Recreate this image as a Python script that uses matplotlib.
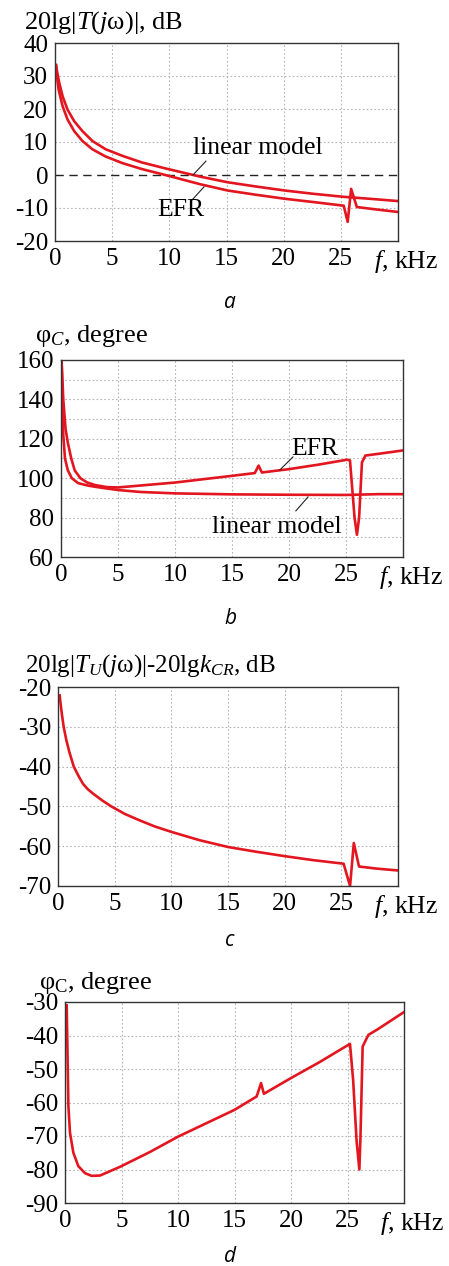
import matplotlib
matplotlib.use("Agg")
import matplotlib.pyplot as plt
from matplotlib.transforms import offset_copy

plt.rcParams['font.family'] = ['Liberation Serif', 'DejaVu Serif']
plt.rcParams['mathtext.fontset'] = 'custom'
plt.rcParams['mathtext.rm'] = 'Liberation Serif'
plt.rcParams['mathtext.it'] = 'Liberation Serif:italic'

# ---------------- data ----------------
# panel a: 20lg|T(jw)|, dB
fa_lin = [0.09, 0.2, 0.38, 0.67, 1.1, 1.68, 2.4, 3.27, 4.43, 5.9, 7.6, 9.65, 12.7, 15.1, 17.6, 20.1,
          22.6, 25.2, 27.5, 30.0]
a_lin = [33.3, 31.0, 27.8, 23.8, 19.8, 16.3, 13.3, 10.3, 7.8, 5.8, 3.8, 2.0, -0.5, -2.2, -3.5, -4.7,
         -5.7, -6.6, -7.2, -7.9]
fa_efr = [0.09, 0.2, 0.32, 0.67, 1.1, 1.68, 2.4, 3.27, 4.43, 5.9, 7.6, 9.65, 12.7, 15.1, 17.6, 20.1,
          22.6, 25.25, 25.6, 25.9, 26.4, 28.0, 30.0]
a_efr = [33.3, 29.0, 25.8, 20.8, 16.8, 13.3, 10.3, 7.8, 5.6, 3.6, 1.8, 0.0, -2.8, -4.7, -6.0, -7.2,
         -8.2, -9.3, -14.2, -4.2, -9.7, -10.4, -11.2]

# panel b: phi_C, degree
fb_lin = [0.05, 0.12, 0.2, 0.35, 0.6, 0.95, 1.5, 2.4, 3.5, 5.0, 7.0, 10.0, 15.0, 20.0, 25.0, 27.8, 30.0]
b_lin = [160, 140, 122, 110, 104, 100, 97.5, 96.2, 95.2, 94.0, 93.0, 92.3, 91.8, 91.6, 91.5, 91.9, 91.9]
fb_efr = [0.05, 0.2, 0.4, 0.6, 0.9, 1.2, 1.7, 2.3, 3.0, 4.0, 5.0, 7.0, 10.0, 12.5, 15.0, 17.0, 17.33,
          17.62, 20.0, 22.6, 25.1, 25.35, 25.75, 25.96, 26.15, 26.4, 26.7, 28.0, 30.0]
b_efr = [160, 140, 125, 118, 110, 104, 100, 97.8, 96.5, 95.5, 95.3, 96.3, 97.8, 99.5, 101.2, 102.6, 106.4,
         102.9, 104.6, 106.9, 109.4, 109.0, 80.0, 71.3, 80.0, 108.0, 111.5, 112.5, 114.1]

# panel c: 20lg|TU(jw)|-20lg kCR, dB
fc = [0.15, 0.2, 0.3, 0.4, 0.5, 0.74, 1.0, 1.39, 1.8, 2.2, 2.6, 3.1, 3.9, 4.7, 5.9, 7.2, 8.5, 10.0,
      12.5, 15.0, 17.5, 20.0, 22.5, 25.2, 25.77, 26.1, 26.56, 28.0, 30.0]
c_val = [-22.1, -23.5, -25.9, -28.0, -30.0, -33.4, -36.3, -40.0, -42.3, -44.3, -45.6, -46.8, -48.5,
         -50.0, -51.9, -53.5, -55.0, -56.4, -58.5, -60.2, -61.4, -62.5, -63.5, -64.4, -70.0, -59.2,
         -65.1, -65.6, -66.1]

# panel d: phi_C, degree
fd = [0.15, 0.22, 0.3, 0.44, 0.74, 1.18, 1.77, 2.36, 3.1, 4.87, 7.5, 10.0, 12.5, 15.0, 16.96, 17.35, 17.6,
      20.0, 22.5, 25.22, 25.5, 25.8, 26.05, 26.15, 26.34, 26.85, 27.6, 30.0]
d_val = [-31.0, -45.0, -61.0, -69.0, -75.0, -79.0, -81.1, -81.9, -81.8, -79.2, -74.8, -70.2, -66.2, -62.2,
         -58.2, -54.2, -57.4, -52.7, -48.0, -42.5, -53.3, -71.3, -80.0, -70.0, -43.3, -39.8, -38.3, -33.0]

x_ticks = [0, 5, 10, 15, 20, 25]
x_grid = [5, 10, 15, 20, 25]

RED = '#e3161f'
W, H = 449, 1266
fig = plt.figure(figsize=(W / 100, H / 100), dpi=100)


def rect(l, r, t, b):
    return [l / W, 1 - b / H, (r - l) / W, (b - t) / H]


def style(ax, ylim, yticks, ygrid):
    ax.set_xlim(0, 30)
    ax.set_ylim(*ylim)
    ax.set_xticks(x_ticks)
    ax.set_yticks(yticks)
    ax.set_yticklabels([f"{v:g}" for v in yticks])
    ax.tick_params(which='both', length=0, labelsize=18, pad=5)
    gkw = dict(color='#b5b5b5', linestyle=(0, (1.5, 2.0)), linewidth=0.8, zorder=0)
    for x in x_grid:
        ax.axvline(x, **gkw)
    for y in ygrid:
        ax.axhline(y, **gkw)
    for s in ax.spines.values():
        s.set_color('#333333')
        s.set_linewidth(1.0)
    t = offset_copy(ax.transAxes, fig=fig, y=-5, units='points')
    ax.text(1.025, 0.0, r"$f$, kHz", transform=t, ha='center', va='top', fontsize=18.5)


# ---- a ----
axa = fig.add_axes(rect(55, 398, 43, 241))
style(axa, (-20, 40), [-20, -10, 0, 10, 20, 30, 40], [-10, 10, 20, 30])
axa.axhline(0, color='#222222', lw=1.0, ls=(0, (6, 4)))
axa.plot(fa_lin, a_lin, color=RED, lw=1.9)
axa.plot(fa_efr, a_efr, color=RED, lw=1.9)
axa.text(17.76, 8.2, 'linear model', ha='center', va='center', fontsize=18.5)
axa.plot([13.2, 12.07], [4.2, 0.0], color='#222222', lw=0.8)
axa.text(11.0, -10.6, 'EFR', ha='center', va='center', fontsize=18.5)
axa.plot([11.98, 13.03], [-7.6, -3.6], color='#222222', lw=0.8)

# ---- b ----
axb = fig.add_axes(rect(61, 403, 360, 557))
style(axb, (60, 160), [60, 80, 100, 120, 140, 160], [70, 80, 90, 100, 110, 120, 130, 140, 150])
axb.plot(fb_lin, b_lin, color=RED, lw=1.9)
axb.plot(fb_efr, b_efr, color=RED, lw=1.9)
axb.text(22.28, 114.8, 'EFR', ha='center', va='center', fontsize=18.5)
axb.plot([19.2, 20.35], [104.2, 110.8], color='#222222', lw=0.8)
axb.text(18.95, 75.2, 'linear model', ha='center', va='center', fontsize=18.5)
axb.plot([20.6, 21.67], [83.4, 90.5], color='#222222', lw=0.8)

# ---- c ----
axc = fig.add_axes(rect(58, 398, 687, 886))
style(axc, (-70, -20), [-70, -60, -50, -40, -30, -20], [-60, -50, -40, -30])
axc.plot(fc, c_val, color=RED, lw=1.9)

# ---- d ----
axd = fig.add_axes(rect(65, 404, 1002, 1203))
style(axd, (-90, -30), [-90, -80, -70, -60, -50, -40, -30], [-80, -70, -60, -50, -40])
axd.plot(fd, d_val, color=RED, lw=1.9)

# titles
fig.text(24 / W, 1 - 29 / H, r"20lg|$T$($j$ω)|, dB", ha='left', va='baseline', fontsize=19)
fig.text(35 / W, 1 - 342 / H, r"$\mathrm{φ}_{C}$, degree", ha='left', va='baseline', fontsize=19)
fig.text(25 / W, 1 - 672 / H, r"20lg|$T_{U}$($j$ω)|-20lg$k_{CR}$, dB", ha='left', va='baseline', fontsize=18)
fig.text(39 / W, 1 - 989 / H, r"$\mathrm{φ}_{\mathrm{C}}$, degree", ha='left', va='baseline', fontsize=19)

# sub-figure letters
for letter, yc in [('a', 303), ('b', 618), ('c', 940), ('d', 1256)]:
    fig.text(230 / W, 1 - yc / H, letter, ha='center', va='center', fontsize=15,
             family='Open Sans', style='italic')

fig.savefig('out.png', dpi=100)
